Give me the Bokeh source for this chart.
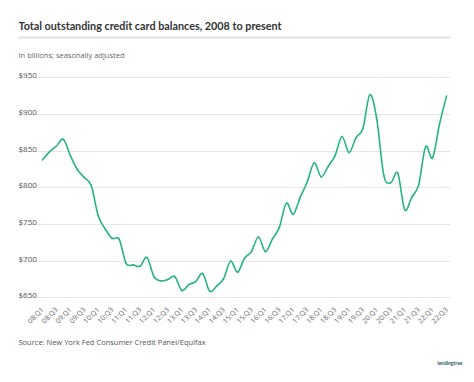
import math
from bokeh.plotting import figure
from bokeh.models import FixedTicker, Label, Grid, Range1d, Title, ColumnDataSource
from bokeh.core.properties import value
from bokeh.embed import file_html
from bokeh.resources import INLINE

# ---- data (billions of dollars, quarterly 2008:Q1 .. 2022:Q3) ----
balances = [
    838, 849, 857, 866,   # 2008
    844, 825, 814, 803,   # 2009
    762, 744, 731, 730,   # 2010
    697, 695, 693, 705,   # 2011
    679, 673, 675, 679,   # 2012
    660, 668, 672, 683,   # 2013
    659, 666, 676, 700,   # 2014
    685, 704, 713, 733,   # 2015
    713, 730, 746, 779,   # 2016
    764, 787, 808, 834,   # 2017
    815, 829, 844, 870,   # 2018
    848, 868, 881, 927,   # 2019
    893, 817, 807, 820,   # 2020
    770, 787, 804, 856,   # 2021
    841, 887, 925,        # 2022
]
tick_labels = [
    "08:Q1", "08:Q3", "09:Q1", "09:Q3", "10:Q1", "10:Q3", "11:Q1", "11:Q3",
    "12:Q1", "12:Q3", "13:Q1", "13:Q3", "14:Q1", "14:Q3", "15:Q1", "15:Q3",
    "16:Q1", "16:Q3", "17:Q1", "17:Q3", "18:Q1", "18:Q3", "19:Q1", "19:Q3",
    "20:Q1", "20:Q3", "21:Q1", "21:Q3", "22:Q1", "22:Q3",
]
y_ticks = [650, 700, 750, 800, 850, 900, 950]
y_tick_labels = ["$650", "$700", "$750", "$800", "$850", "$900", "$950"]

title_text = "Total outstanding credit card balances, 2008 to present"
subtitle_text = "In billions; seasonally adjusted"
source_text = "Source: New York Fed Consumer Credit Panel/Equifax"

# ---- geometry ----
W, H = 474, 382
FRAME_BOTTOM = 299
PX_PER_Q = 404 / 58.0
X_START = -24 / PX_PER_Q
X_END = X_START + 432 / PX_PER_Q
PX_PER_USD = 220 / 300.0
Y_START = 647.7
Y_END = Y_START + FRAME_BOTTOM / PX_PER_USD


def x_at(wx):
    return X_START + (wx - 18) / PX_PER_Q


def y_at(wy):
    return Y_START + (FRAME_BOTTOM - wy) / PX_PER_USD


idx = list(range(len(balances)))
tick_pos = list(range(0, len(balances), 2))

# smooth drawing of the series: one cubic Bezier per segment (Catmull-Rom handles)
n = len(balances)
x0s, y0s, x1s, y1s, cx0s, cy0s, cx1s, cy1s = [], [], [], [], [], [], [], []
for i in range(n - 1):
    xp, yp = idx[max(i - 1, 0)], balances[max(i - 1, 0)]
    xa_, ya_ = idx[i], balances[i]
    xb_, yb_ = idx[i + 1], balances[i + 1]
    xn, yn = idx[min(i + 2, n - 1)], balances[min(i + 2, n - 1)]
    x0s.append(xa_); y0s.append(ya_)
    x1s.append(xb_); y1s.append(yb_)
    cx0s.append(xa_ + (xb_ - xp) / 6.0); cy0s.append(ya_ + (yb_ - yp) / 6.0)
    cx1s.append(xb_ - (xn - xa_) / 6.0); cy1s.append(yb_ - (yn - ya_) / 6.0)
curve = ColumnDataSource(dict(x0=x0s, y0=y0s, x1=x1s, y1=y1s,
                              cx0=cx0s, cy0=cy0s, cx1=cx1s, cy1=cy1s))

p = figure(width=W, height=H, output_backend="svg", toolbar_location=None,
           x_range=Range1d(X_START, X_END), y_range=Range1d(Y_START, Y_END),
           y_axis_location=None, title=None,
           min_border_left=18, min_border_right=W - 450, min_border_top=0,
           min_border_bottom=H - FRAME_BOTTOM)
p.outline_line_color = None
p.background_fill_color = "white"
p.border_fill_color = "white"

for r in list(p.center):
    if isinstance(r, Grid):
        r.visible = False

p.add_layout(Grid(dimension=1, ticker=FixedTicker(ticks=y_ticks),
                  grid_line_color="#e6e6e6", grid_line_width=1))

xa = p.xaxis[0]
xa.ticker = FixedTicker(ticks=tick_pos)
xa.major_label_overrides = {i: lbl for i, lbl in zip(tick_pos, tick_labels)}
xa.major_label_orientation = math.pi / 4
xa.major_label_text_font = "Open Sans"
xa.major_label_text_font_size = "7px"
xa.major_label_text_color = "#666666"
xa.axis_line_color = None
xa.major_tick_line_color = None
xa.minor_tick_line_color = None
xa.major_label_standoff = 3

# main series
p.bezier(x0="x0", y0="y0", x1="x1", y1="y1", cx0="cx0", cy0="cy0",
         cx1="cx1", cy1="cy1", source=curve, line_color="#27b57f",
         line_width=1.6, line_cap="round")

# y tick labels above gridlines
p.text(x=[X_START] * len(y_ticks), y=y_ticks, text=y_tick_labels,
       text_font=value("Open Sans"), text_font_size="8px",
       text_color="#555555", text_baseline="alphabetic", text_align="left",
       y_offset=-3)

# header rule
p.segment(x0=[X_START], x1=[x_at(455)], y0=[y_at(37)], y1=[y_at(37)],
          line_color="#e2e2e2", line_width=2)

p.add_layout(Label(x=X_START, y=y_at(24.5), text=title_text,
                   text_font="Lato", text_font_style="bold",
                   text_font_size="10.8px", text_color="#333333",
                   text_baseline="alphabetic"))
p.add_layout(Label(x=X_START, y=y_at(54.5), text=subtitle_text,
                   text_font="Open Sans", text_font_size="7.5px",
                   text_color="#666666", text_baseline="alphabetic"))

p.add_layout(Title(text=source_text, align="left", text_font="Open Sans",
                   text_font_style="normal", text_font_size="7.5px",
                   text_color="#555555", standoff=6), "below")
p.add_layout(Title(text="lendingtree", align="right", text_font="Lato",
                   text_font_style="bold", text_font_size="5px",
                   text_color="#1f5a5e", standoff=17, offset=-12), "below")

open("out.html", "w").write(file_html(p, INLINE))
